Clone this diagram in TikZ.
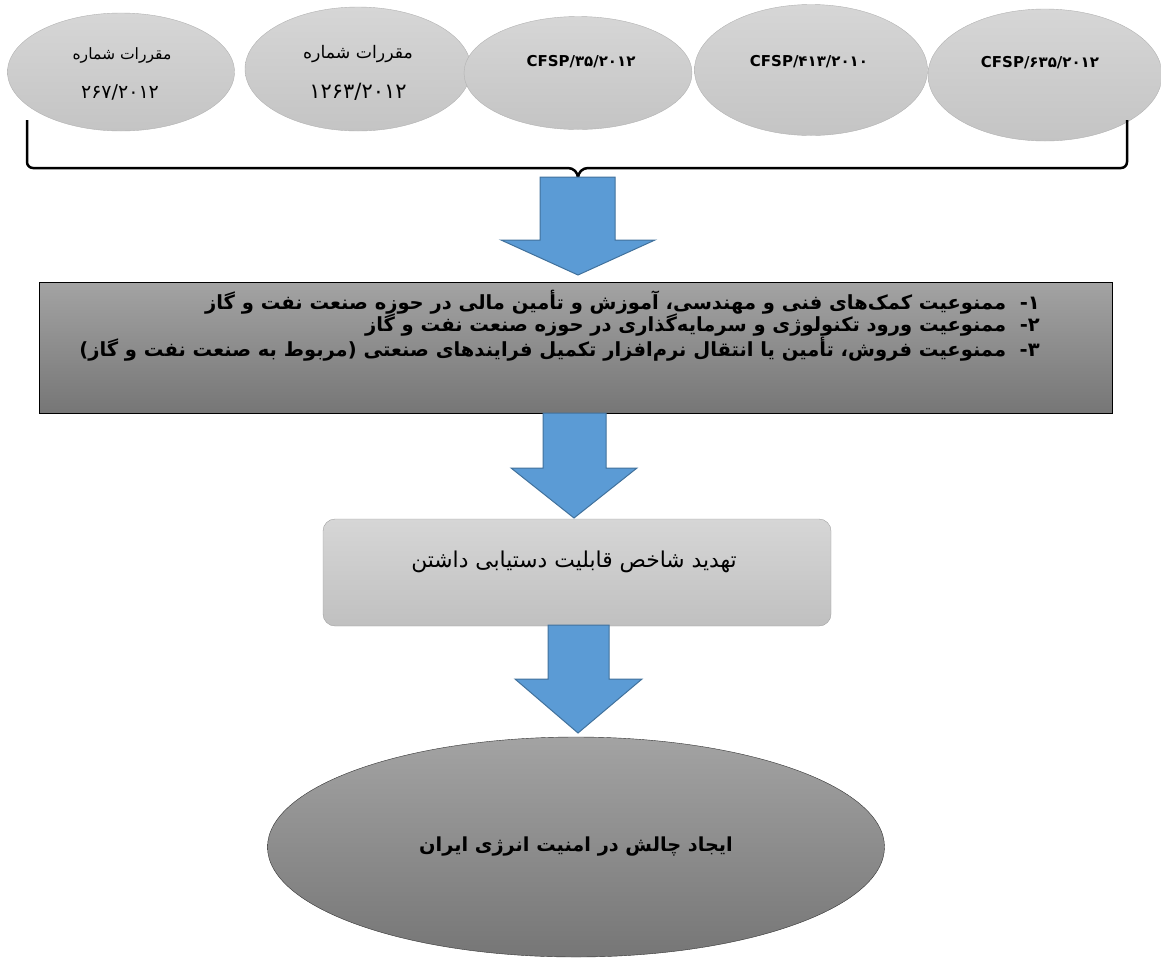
\documentclass[tikz,border=0pt]{standalone}
\usepackage{fontspec}
\usetikzlibrary{shapes.geometric}
\TeXXeTstate=1
\newfontfamily\fa[Script=Arabic]{DejaVu Sans}
\newfontfamily\dv{DejaVu Sans}
\definecolor{lawtop}{RGB}{214,214,214}
\definecolor{lawbot}{RGB}{196,196,196}
\definecolor{lawedge}{RGB}{178,178,178}
\definecolor{listtop}{RGB}{163,163,163}
\definecolor{listbot}{RGB}{118,118,118}
\definecolor{threattop}{RGB}{214,214,214}
\definecolor{threatbot}{RGB}{192,192,192}
\definecolor{threatedge}{RGB}{160,160,160}
\definecolor{arrblue}{RGB}{91,155,213}
\definecolor{arredge}{RGB}{65,113,156}
\begin{document}
\begin{tikzpicture}[x=1pt,y=-1pt,
  law/.style={ellipse,draw=lawedge,top color=lawtop,bottom color=lawbot,inner sep=0pt},
  lawtext/.style={font=\fa\fontsize{#1}{18}\selectfont},
  cfsptext/.style={font=\dv\bfseries\fontsize{15}{18}\selectfont},
  listbox/.style={rectangle,draw=black,top color=listtop,bottom color=listbot,inner sep=0pt},
  item/.style={font=\fa\bfseries\fontsize{19.5}{22}\selectfont,inner sep=0pt},
  threat/.style={rectangle,rounded corners=12pt,draw=threatedge,top color=threattop,bottom color=threatbot,inner sep=0pt},
  result/.style={ellipse,draw=black!80,top color=listtop,bottom color=listbot,inner sep=0pt,font=\fa\bfseries\fontsize{19.3}{22}\selectfont},
  barrow/.style={draw=arredge,fill=arrblue,line width=1pt,line join=miter},
  brace/.style={line width=2.5pt,line join=round}]
\useasboundingbox (0,0) rectangle (1161,959);
% regulations
\node[law,minimum width=227pt,minimum height=118pt] (e1) at (121,72) {};
\node[law,minimum width=226pt,minimum height=124pt] (e2) at (358,69) {};
\node[law,minimum width=228pt,minimum height=113pt] (e3) at (578,73) {};
\node[law,minimum width=233pt,minimum height=131pt] (e4) at (811,70) {};
\node[law,minimum width=234pt,minimum height=132pt] (e5) at (1045,75) {};
\node[lawtext=15.6] (t1a) at (122,55) {\beginR مقررات شماره\endR};
\node[lawtext=19] (t1b) at (120,92) {۲۶۷/۲۰۱۲};
\node[lawtext=17.3] (t2a) at (358,54) {\beginR مقررات شماره\endR};
\node[lawtext=21] (t2b) at (358,92) {۱۲۶۳/۲۰۱۲};
\node[cfsptext] (t3) at (581,62) {CFSP/۳۵/۲۰۱۲};
\node[cfsptext] (t4) at (809,62) {CFSP/۴۱۳/۲۰۱۰};
\node[cfsptext] (t5) at (1040,63) {CFSP/۶۳۵/۲۰۱۲};
% brace
\coordinate (bl) at (27,120);
\coordinate (br) at (1127,120);
\draw[brace] (bl) -- (27,162) to[out=-90,in=180] (33,168) -- (568,168)
  to[out=0,in=90] (578,178) to[out=90,in=180] (588,168) -- (1121,168)
  to[out=0,in=-90] (1127,162) -- (br);
% sanctions
\node[listbox,minimum width=1073pt,minimum height=131pt] (box) at (575.5,347.5) {};
\node[item,anchor=east] (i1) at (1040,302) {\beginR ۱\kern0pt-\ \ ممنوعیت کمک‌های فنی و مهندسی، آموزش و تأمین مالی در حوزه صنعت نفت و گاز\endR};
\node[item,anchor=east] (i2) at (1040,325) {\beginR ۲\kern0pt-\ \ ممنوعیت ورود تکنولوژی و سرمایه‌گذاری در حوزه صنعت نفت و گاز\endR};
\node[item,anchor=east] (i3) at (1040,349) {\beginR ۳\kern0pt-\ \ ممنوعیت فروش، تأمین یا انتقال نرم‌افزار تکمیل فرایندهای صنعتی (مربوط به صنعت نفت و گاز)\endR};
% threat
\node[threat,minimum width=508pt,minimum height=107pt] (box2) at (577,572.5) {};
\node[font=\fa\fontsize{21.8}{24}\selectfont] (t6) at (574,562) {\beginR تهدید شاخص قابلیت دستیابی داشتن\endR};
% result
\node[result,minimum width=617pt,minimum height=220pt] (res) at (576,847) {\beginR ایجاد چالش در امنیت انرژی ایران\endR};
% block arrows
\draw[barrow] (540,177) -- (540,240) -- (501,240) -- (578,275) -- (655,240) -- (615,240) -- (615,177) -- cycle;
\draw[barrow] (543,413) -- (543,468) -- (511,468) -- (574,518) -- (637,468) -- (606,468) -- (606,413) -- cycle;
\draw[barrow] (548,625) -- (548,679) -- (515,679) -- (578,733) -- (642,679) -- (609,679) -- (609,625) -- cycle;
\end{tikzpicture}
\end{document}
